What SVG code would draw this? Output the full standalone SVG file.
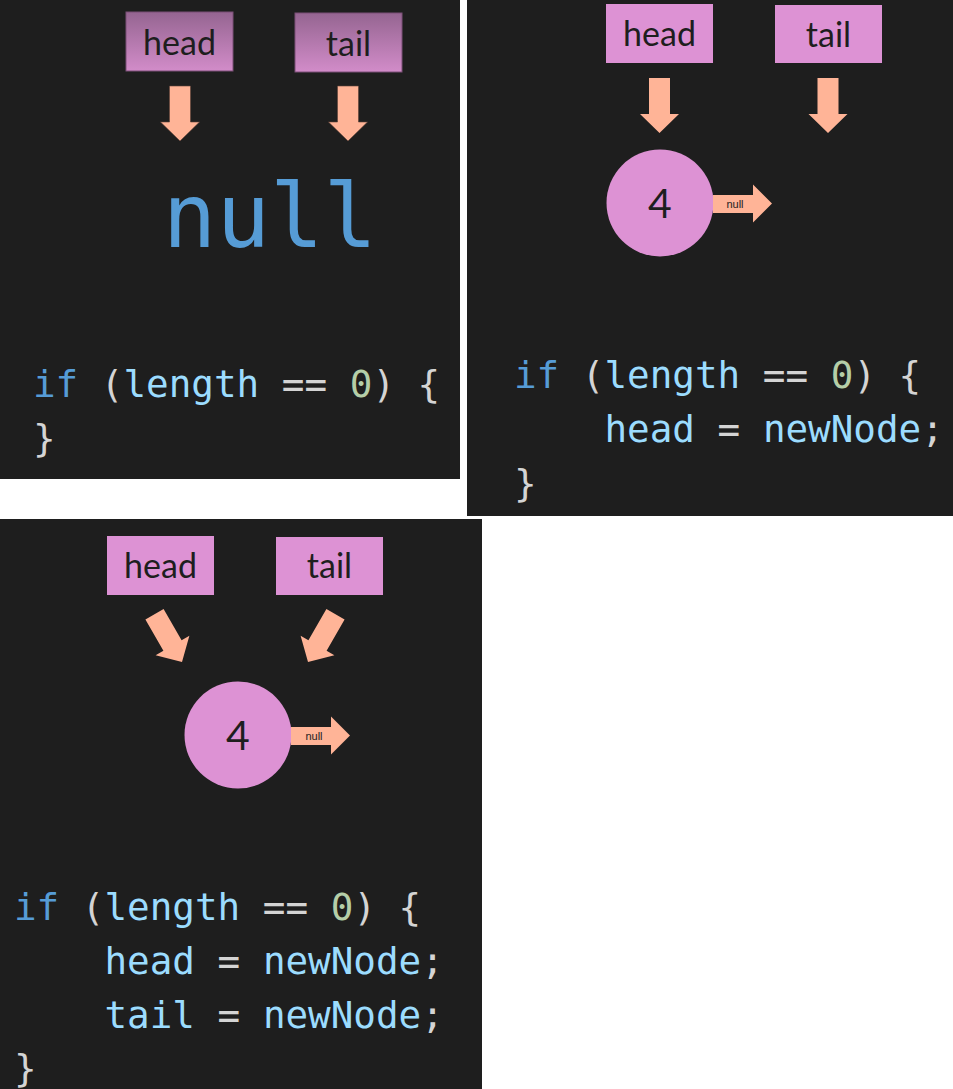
<svg xmlns="http://www.w3.org/2000/svg" width="953" height="1089" viewBox="0 0 953 1089">
<defs>
<linearGradient id="dimBox" x1="0" y1="0" x2="0" y2="1">
<stop offset="0" stop-color="#956591"/>
<stop offset="1" stop-color="#d28cc9"/>
</linearGradient>
<path id="downArrow" d="M -10.5,-55 H 10.5 V -19 H 19.5 L 0,0 L -19.5,-19 H -10.5 Z"/>
<path id="nullArrow" d="M 0,-8.5 H 40 V -19 L 59,0 L 40,19 V 9.5 H 0 Z"/>
</defs>
<style>
.bg{fill:#1e1e1e}
.box{fill:#dd92d4}
.boxdim{fill:url(#dimBox);stroke:#7a4f76;stroke-width:1}
.lbl{font-family:Lato,"Open Sans","Liberation Sans",sans-serif;font-size:34px;fill:#1e1e1e;text-anchor:middle}
.num{font-family:Lato,"Open Sans","Liberation Sans",sans-serif;font-size:41px;fill:#1e1e1e;text-anchor:middle}
.nul{font-family:"Liberation Sans",Arial,sans-serif;font-size:11px;fill:#1e1e1e;text-anchor:middle}
.arr{fill:#ffb497}
.node{fill:#dd92d4}
.code{font-family:"DejaVu Sans Mono","Liberation Mono",monospace;font-size:37.6px}
.kw{fill:#569cd6}
.pn{fill:#d4d4d4}
.id{fill:#9cdcfe}
.nm{fill:#b5cea8}
</style>
<rect width="953" height="1089" fill="#ffffff"/>

<g id="panel1">
<rect class="bg" x="0" y="0" width="460" height="479"/>
<g id="p1-head"><rect class="boxdim" x="126" y="12" width="107" height="59"/><text class="lbl" x="179.5" y="55">head</text></g>
<g id="p1-tail"><rect class="boxdim" x="295" y="13" width="107" height="59"/><text class="lbl" x="348.5" y="56">tail</text></g>
<g id="p1-null"><text x="270" y="247" font-family="DejaVu Sans Mono,Liberation Mono,monospace" font-size="89" fill="#569cd6" text-anchor="middle">null</text></g>
<g id="p1-connectors">
<use href="#downArrow" class="arr" x="180" y="141" stroke="#5a3f36" stroke-width="0.6"/>
<use href="#downArrow" class="arr" x="348" y="141" stroke="#5a3f36" stroke-width="0.6"/>
</g>
<g id="p1-code" class="code">
<text x="33" y="397"><tspan class="kw">if</tspan><tspan class="pn"> (</tspan><tspan class="id">length</tspan><tspan class="pn"> == </tspan><tspan class="nm">0</tspan><tspan class="pn">) {</tspan></text>
<text class="pn" x="33" y="451">}</text>
</g>
</g>

<g id="panel2">
<rect class="bg" x="467" y="0" width="486" height="516"/>
<g id="p2-head"><rect class="box" x="606" y="4" width="107" height="59"/><text class="lbl" x="659.5" y="46">head</text></g>
<g id="p2-tail"><rect class="box" x="775" y="5" width="107" height="58"/><text class="lbl" x="828.5" y="47">tail</text></g>
<g id="p2-node"><circle class="node" cx="660" cy="203" r="53.5"/><text class="num" x="660" y="218">4</text></g>
<g id="p2-connectors">
<use href="#downArrow" class="arr" x="659.5" y="133"/>
<use href="#downArrow" class="arr" x="828" y="133"/>
<g transform="translate(713,203.5)"><use href="#nullArrow" class="arr"/><text class="nul" x="22" y="4.5">null</text></g>
</g>
<g id="p2-code" class="code">
<text x="514" y="388"><tspan class="kw">if</tspan><tspan class="pn"> (</tspan><tspan class="id">length</tspan><tspan class="pn"> == </tspan><tspan class="nm">0</tspan><tspan class="pn">) {</tspan></text>
<text x="604.5" y="442"><tspan class="id">head</tspan><tspan class="pn"> = </tspan><tspan class="id">newNode</tspan><tspan class="pn">;</tspan></text>
<text class="pn" x="514" y="496">}</text>
</g>
</g>

<g id="panel3">
<rect class="bg" x="0" y="519" width="482" height="570"/>
<g id="p3-head"><rect class="box" x="107" y="536" width="107" height="59"/><text class="lbl" x="160.5" y="578">head</text></g>
<g id="p3-tail"><rect class="box" x="276" y="537" width="107" height="58"/><text class="lbl" x="329.5" y="578">tail</text></g>
<g id="p3-node"><circle class="node" cx="238" cy="735" r="53.5"/><text class="num" x="238" y="750">4</text></g>
<g id="p3-connectors">
<use href="#downArrow" class="arr" transform="translate(182,662) rotate(-30)"/>
<use href="#downArrow" class="arr" transform="translate(308,662) rotate(30)"/>
<g transform="translate(291,735.5)"><use href="#nullArrow" class="arr"/><text class="nul" x="23" y="4.5">null</text></g>
</g>
<g id="p3-code" class="code">
<text x="14" y="920"><tspan class="kw">if</tspan><tspan class="pn"> (</tspan><tspan class="id">length</tspan><tspan class="pn"> == </tspan><tspan class="nm">0</tspan><tspan class="pn">) {</tspan></text>
<text x="104.5" y="974"><tspan class="id">head</tspan><tspan class="pn"> = </tspan><tspan class="id">newNode</tspan><tspan class="pn">;</tspan></text>
<text x="104.5" y="1028"><tspan class="id">tail</tspan><tspan class="pn"> = </tspan><tspan class="id">newNode</tspan><tspan class="pn">;</tspan></text>
<text class="pn" x="14" y="1081">}</text>
</g>
</g>
</svg>
